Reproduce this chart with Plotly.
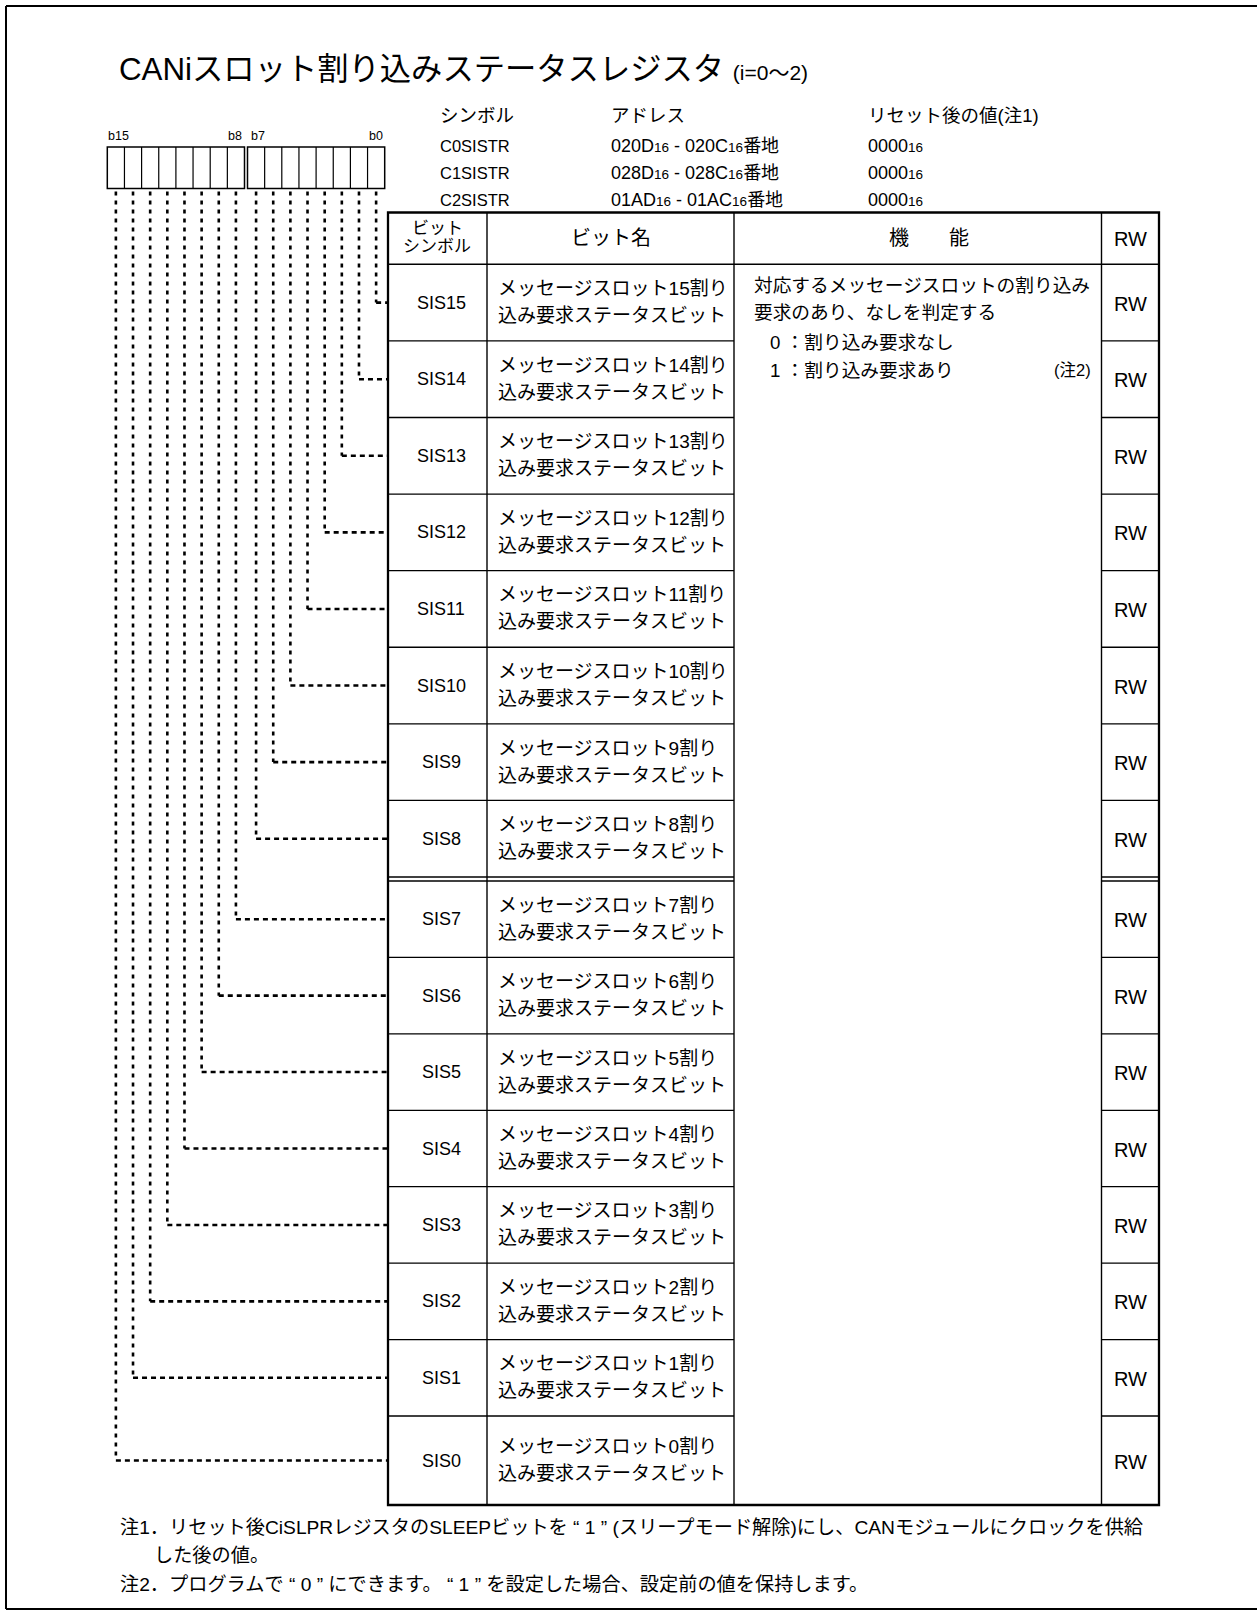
import plotly.graph_objects as go

# ---------------- data ----------------
title_text = "CANiスロット割り込みステータスレジスタ"
title_suffix = "(i=0～2)"
bit_labels_left = ["b15", "b7"]
bit_labels_right = ["b8", "b0"]
info_headers = ["シンボル", "アドレス", "リセット後の値(注1)"]
reg_symbols = ["C0SISTR", "C1SISTR", "C2SISTR"]
reg_addr_hi = ["020D", "028D", "01AD"]
reg_addr_lo = ["020C", "028C", "01AC"]
reg_reset = ["0000", "0000", "0000"]
radix = "16"
addr_suffix = "番地"
col_headers = ["ビット名", "機　　能", "RW"]
col_header_sym = ["ビット", "シンボル"]
bit_symbols = ["SIS15", "SIS14", "SIS13", "SIS12", "SIS11", "SIS10", "SIS9", "SIS8",
               "SIS7", "SIS6", "SIS5", "SIS4", "SIS3", "SIS2", "SIS1", "SIS0"]
bit_name_1 = ["メッセージスロット15割り", "メッセージスロット14割り", "メッセージスロット13割り",
              "メッセージスロット12割り", "メッセージスロット11割り", "メッセージスロット10割り",
              "メッセージスロット9割り", "メッセージスロット8割り", "メッセージスロット7割り",
              "メッセージスロット6割り", "メッセージスロット5割り", "メッセージスロット4割り",
              "メッセージスロット3割り", "メッセージスロット2割り", "メッセージスロット1割り",
              "メッセージスロット0割り"]
bit_name_2 = ["込み要求ステータスビット"] * 16
rw_values = ["RW", "RW", "RW", "RW", "RW", "RW", "RW", "RW",
             "RW", "RW", "RW", "RW", "RW", "RW", "RW", "RW"]
function_lines = ["対応するメッセージスロットの割り込み", "要求のあり、なしを判定する",
                  "0 ：割り込み要求なし", "1 ：割り込み要求あり"]
function_note = "(注2)"
footnotes = [
    "注1．リセット後CiSLPRレジスタのSLEEPビットを “ 1 ” (スリープモード解除)にし、CANモジュールにクロックを供給",
    "した後の値。",
    "注2．プログラムで “ 0 ” にできます。 “ 1 ” を設定した場合、設定前の値を保持します。",
]

# ---------------- layout geometry ----------------
W, H = 1257, 1617
FONT = "Liberation Sans, Arial, Noto Sans CJK JP, sans-serif"
BLACK = "#000000"

TX = [388, 487, 734, 1101.5, 1159]      # table column boundaries
T_TOP, T_HEAD = 212.5, 264.3
SPLIT_A, SPLIT_B = 877, 881              # double line between b8 and b7
LAST_TOP, T_BOT = 1416, 1505

bounds = []
h1 = (SPLIT_A - T_HEAD) / 8
for k in range(8):
    bounds.append((T_HEAD + k * h1, T_HEAD + (k + 1) * h1))
h2 = (LAST_TOP - SPLIT_B) / 7
for k in range(7):
    bounds.append((SPLIT_B + k * h2, SPLIT_B + (k + 1) * h2))
bounds.append((LAST_TOP, T_BOT))

BOX_TOP, BOX_BOT = 147, 188.5
G1, G2, CW = 107.3, 247.5, 17.15
cell_x0 = [G1 + CW * k for k in range(8)] + [G2 + CW * k for k in range(8)]
cell_cx = [x + CW / 2 for x in cell_x0]

shapes = []
ann = []


def line(x0, y0, x1, y1, w=1.3, dash=None):
    d = dict(type="line", xref="x", yref="y", x0=x0, y0=y0, x1=x1, y1=y1,
             line=dict(color=BLACK, width=w))
    if dash:
        d["line"]["dash"] = dash
    shapes.append(d)


def text(x, y, s, size, anchor="left", yanchor="middle"):
    ann.append(dict(x=x, y=y, xref="x", yref="y", text=s, showarrow=False,
                    xanchor=anchor, yanchor=yanchor,
                    font=dict(family=FONT, size=size, color=BLACK)))


def small(s, size=13.5):
    return "<span style='font-size:%spx'>%s</span>" % (size, s)


# outer frame (right edge lies outside the picture)
line(6, 6, W + 5, 6, 2)
line(6, 6, 6, 1609, 2)
line(6, 1609, W + 5, 1609, 2)

# title
text(117, 69, title_text + " " + small(title_suffix, 21), 31.3)

# register info
info_x = [438, 609, 866]
for j, hdr in enumerate(info_headers):
    text(info_x[j], 115, hdr, 18.5)
for r in range(3):
    y = 146 + r * 27
    text(info_x[0], y, reg_symbols[r], 16.5)
    text(info_x[1], y, reg_addr_hi[r] + small(radix) + " - " + reg_addr_lo[r]
         + small(radix) + addr_suffix, 18)
    text(info_x[2], y, reg_reset[r] + small(radix), 18)

# bit boxes
for gx in (G1, G2):
    shapes.append(dict(type="rect", xref="x", yref="y", x0=gx, y0=BOX_TOP,
                       x1=gx + 8 * CW, y1=BOX_BOT, line=dict(color=BLACK, width=1.5)))
    for k in range(1, 8):
        line(gx + k * CW, BOX_TOP, gx + k * CW, BOX_BOT, 1.2)
text(G1 - 1, 136, bit_labels_left[0], 12.5)
text(G2 + 1, 136, bit_labels_left[1], 12.5)
text(G1 + 8 * CW - 1, 136, bit_labels_right[0], 12.5, anchor="right")
text(G2 + 8 * CW, 136, bit_labels_right[1], 12.5, anchor="right")

# dashed connectors
for i in range(16):
    yc = (bounds[i][0] + bounds[i][1]) / 2
    x = cell_cx[15 - i]
    line(x, BOX_BOT + 3, x, yc, 2.6, "4px,5px")
    line(x, yc, TX[0], yc, 2.6, "5px,4px")

# table grid
shapes.append(dict(type="rect", xref="x", yref="y", x0=TX[0], y0=T_TOP, x1=TX[4], y1=T_BOT,
                   line=dict(color=BLACK, width=2.3)))
for x in TX[1:4]:
    line(x, T_TOP, x, T_BOT, 1.4)
line(TX[0], T_HEAD, TX[4], T_HEAD, 1.4)
for i in range(15):
    yb = bounds[i][1]
    line(TX[0], yb, TX[2], yb, 1.3)
    line(TX[3], yb, TX[4], yb, 1.3)
line(TX[0], SPLIT_B, TX[2], SPLIT_B, 1.3)
line(TX[3], SPLIT_B, TX[4], SPLIT_B, 1.3)

# header text
hc = (T_TOP + T_HEAD) / 2
text(437, hc - 9.5, col_header_sym[0], 17, anchor="center")
text(437, hc + 8.5, col_header_sym[1], 17, anchor="center")
text((TX[1] + TX[2]) / 2, hc, col_headers[0], 20, anchor="center")
text(929, hc, col_headers[1], 20, anchor="center")
text((TX[3] + TX[4]) / 2, hc + 1, col_headers[2], 20, anchor="center")

# rows
for i in range(16):
    yc = (bounds[i][0] + bounds[i][1]) / 2
    text(441, yc, bit_symbols[i], 18, anchor="center")
    text(496, yc - 14, bit_name_1[i], 19)
    text(496, yc + 13, bit_name_2[i], 19)
    text((TX[3] + TX[4]) / 2, yc + 1, rw_values[i], 20, anchor="center")

# function column
fy = [285, 312.5, 342, 370]
fx = [752, 752, 768, 768]
for k, s in enumerate(function_lines):
    text(fx[k], fy[k], s, 18.7)
text(1093, fy[3], function_note, 16.5, anchor="right")

# footnotes
text(118, 1527, footnotes[0], 19.2)
text(152, 1555, footnotes[1], 19.2)
text(118, 1584, footnotes[2], 19.2)

fig = go.Figure(go.Scatter(x=[], y=[], mode="markers", showlegend=False))
fig.update_layout(
    width=W, height=H, margin=dict(l=0, r=0, t=0, b=0),
    paper_bgcolor="white", plot_bgcolor="white",
    xaxis=dict(range=[0, W], visible=False, fixedrange=True),
    yaxis=dict(range=[H, 0], visible=False, fixedrange=True),
    shapes=shapes, annotations=ann, showlegend=False,
)
fig.write_html("out.html", config={"displayModeBar": False},
               post_script="document.body.style.margin='0px';document.body.style.overflow='hidden';")
